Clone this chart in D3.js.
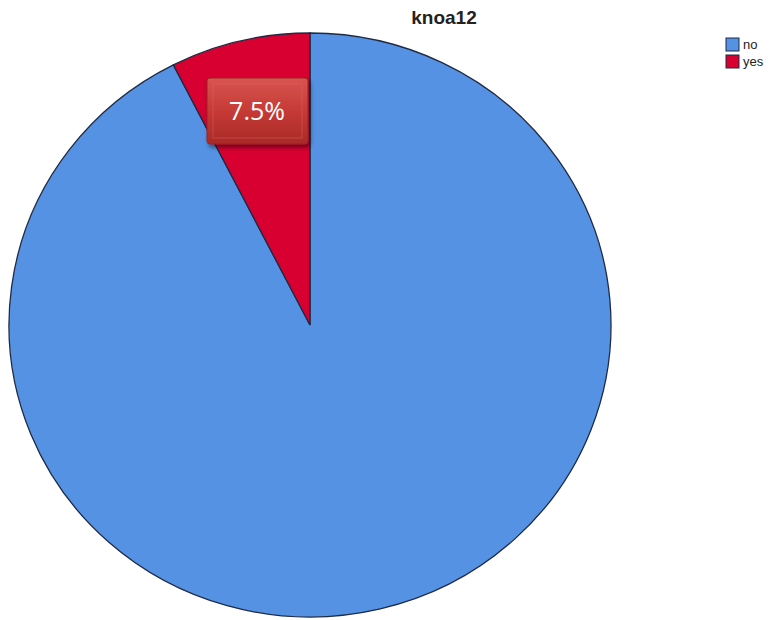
<!DOCTYPE html>
<html><head><meta charset="utf-8">
<script src="https://cdn.jsdelivr.net/npm/d3@7"></script>
<style>body{margin:0;background:#fff;} svg{display:block;}</style>
</head><body>
<script>
const categories = ["no", "yes"];
const values = [92.5, 7.5];
const colors = ["#5592e3", "#d70030"];
const title = "knoa12";
const labelText = "7.5%";

const W = 774, H = 620;
const svg = d3.select("body").append("svg").attr("width", W).attr("height", H);
const defs = svg.append("defs");
const grad = defs.append("linearGradient").attr("id","lg").attr("x1",0).attr("y1",0).attr("x2",0).attr("y2",1);
grad.append("stop").attr("offset","0%").attr("stop-color","#d85550");
grad.append("stop").attr("offset","50%").attr("stop-color","#c63a36");
grad.append("stop").attr("offset","100%").attr("stop-color","#a82a27");
const f = defs.append("filter").attr("id","sh").attr("x","-20%").attr("y","-20%").attr("width","150%").attr("height","160%");
f.append("feDropShadow").attr("dx",2).attr("dy",3).attr("stdDeviation",2).attr("flood-color","#000").attr("flood-opacity",0.45);

const cx = 310, cy = 325, rx = 301, ry = 292;
const pie = d3.pie().sort(null).value(d => d)(values);
const arc = d3.arc().innerRadius(0).outerRadius(rx);
const g = svg.append("g").attr("transform", `translate(${cx},${cy}) scale(1,${ry/rx})`);
g.selectAll("path").data(pie).join("path")
  .attr("d", arc)
  .attr("fill", (d,i) => colors[i])
  .attr("stroke", "#1f2a44")
  .attr("stroke-width", 1.3)
  .attr("vector-effect","non-scaling-stroke");

// label box for yes slice
const lx = 257, ly = 111;
const lb = svg.append("g").attr("transform", `translate(${lx},${ly})`);
lb.append("rect").attr("x",-50).attr("y",-33).attr("width",101).attr("height",66).attr("rx",3)
  .attr("fill","url(#lg)").attr("stroke","#9a2522").attr("stroke-width",1).attr("filter","url(#sh)");
lb.append("rect").attr("x",-44).attr("y",-27).attr("width",89).attr("height",54)
  .attr("fill","none").attr("stroke","#e0706a").attr("stroke-width",0.8).attr("opacity",0.5);
lb.append("text").attr("x",0).attr("y",9).attr("text-anchor","middle")
  .attr("font-family","'Open Sans', 'Liberation Sans', sans-serif").attr("font-size",25)
  .attr("fill","#fff").text(labelText);

// title
svg.append("text").attr("x",444).attr("y",24).attr("text-anchor","middle")
  .attr("font-family","'Liberation Sans', Arial, sans-serif").attr("font-weight","bold")
  .attr("font-size",19).attr("fill","#222").text(title);

// legend
const leg = svg.append("g").attr("transform","translate(726,38)");
categories.forEach((c,i) => {
  const row = leg.append("g").attr("transform", `translate(0,${i*17})`);
  row.append("rect").attr("width",13).attr("height",13).attr("fill",colors[i]).attr("stroke","#1f2a44").attr("stroke-width",1);
  row.append("text").attr("x",17).attr("y",11).attr("font-family","'Liberation Sans', Arial, sans-serif")
    .attr("font-size",13).attr("fill","#222").text(c);
});
</script>
</body></html>
